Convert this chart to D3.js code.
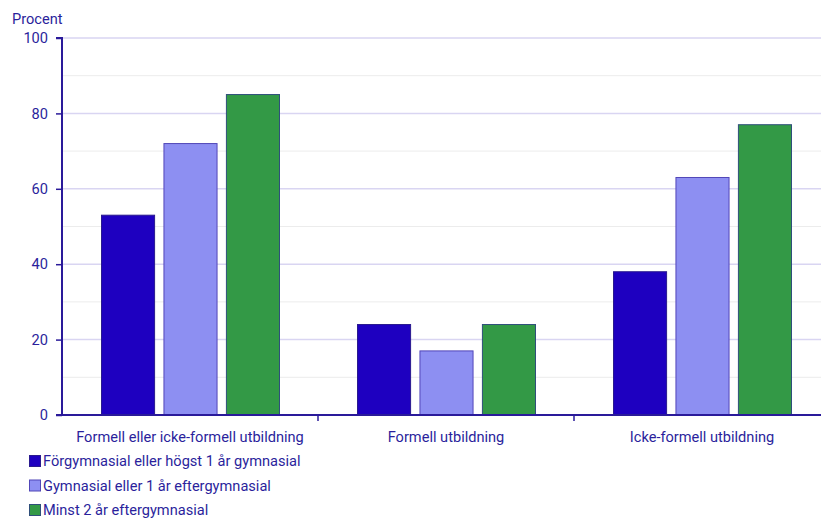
<!DOCTYPE html>
<html>
<head>
<meta charset="utf-8">
<script src="https://cdn.jsdelivr.net/npm/d3@7"></script>
<style>
  html, body { margin: 0; padding: 0; background: #fff; }
  svg { display: block; font-family: Roboto, "Noto Sans", sans-serif; }
</style>
</head>
<body>
<svg id="chart" width="821" height="518"></svg>
<script>
const categories = ["Formell eller icke-formell utbildning", "Formell utbildning", "Icke-formell utbildning"];
const seriesNames = [
  "Förgymnasial eller högst 1 år gymnasial",
  "Gymnasial eller 1 år eftergymnasial",
  "Minst 2 år eftergymnasial"
];
const seriesLow = [53, 24, 38];
const seriesMid = [72, 17, 63];
const seriesHigh = [85, 24, 77];
const yTicks = [0, 20, 40, 60, 80, 100];
const yMinor = [10, 30, 50, 70, 90];

const colors = ["#1e00c0", "#8d8ff2", "#339946"];
const strokes = ["#2a1a8f", "#5146b8", "#2f4f7a"];
const textColor = "#2b1f9c";
const axisColor = "#2a1a9a";
const fontSize = 14.6;

const svg = d3.select("#chart");
const m = { left: 62, top: 38, bottom: 415, right: 830 };

const x = d3.scaleBand().domain(categories).range([m.left, m.right]).paddingInner(0).paddingOuter(0);
const y = d3.scaleLinear().domain([0, 100]).range([m.bottom, m.top]);
const xSub = d3.scaleBand().domain([0, 1, 2]).range([39, 217]).paddingInner(0.15);

// minor gridlines
svg.append("g").selectAll("line").data(yMinor).join("line")
  .attr("x1", m.left).attr("x2", 821)
  .attr("y1", d => y(d)).attr("y2", d => y(d))
  .attr("stroke", "#ececec").attr("stroke-width", 1);

// major gridlines
svg.append("g").selectAll("line").data(yTicks.filter(d => d > 0)).join("line")
  .attr("x1", m.left).attr("x2", 821)
  .attr("y1", d => y(d)).attr("y2", d => y(d))
  .attr("stroke", "#d9d5f2").attr("stroke-width", 1.5);

// bars
const series = [seriesLow, seriesMid, seriesHigh];
series.forEach((vals, si) => {
  svg.append("g").selectAll("rect").data(vals).join("rect")
    .attr("x", (d, i) => x(categories[i]) + xSub(si) + 0.5)
    .attr("y", d => y(d))
    .attr("width", xSub.bandwidth())
    .attr("height", d => y(0) - y(d))
    .attr("fill", colors[si])
    .attr("stroke", strokes[si])
    .attr("stroke-width", 1);
});

// y axis
const yAxis = d3.axisLeft(y).tickValues(yTicks).tickSize(6).tickPadding(8);
const gy = svg.append("g").attr("transform", `translate(${m.left},0)`).call(yAxis);
gy.select(".domain").attr("stroke", axisColor).attr("stroke-width", 2).attr("d", `M-6,${y(100)}H0V${y(0)}`);
gy.selectAll(".tick line").attr("stroke", axisColor).attr("stroke-width", 1.5);
gy.selectAll(".tick text").attr("fill", textColor).attr("font-size", fontSize).attr("font-family", "Roboto, sans-serif");

// x axis
const gx = svg.append("g").attr("transform", `translate(0,${m.bottom})`);
gx.append("line").attr("x1", m.left - 6).attr("x2", 821).attr("y1", 0).attr("y2", 0)
  .attr("stroke", axisColor).attr("stroke-width", 2);
gx.selectAll(".sep").data(categories.slice(1)).join("line").attr("class", "sep")
  .attr("x1", d => x(d)).attr("x2", d => x(d)).attr("y1", 0).attr("y2", 6)
  .attr("stroke", axisColor).attr("stroke-width", 1.5);
gx.selectAll("text").data(categories).join("text")
  .attr("x", d => x(d) + x.bandwidth() / 2)
  .attr("y", 27)
  .attr("text-anchor", "middle")
  .attr("fill", textColor).attr("font-size", fontSize)
  .text(d => d);

// y title
svg.append("text").attr("x", 12).attr("y", 24)
  .attr("fill", textColor).attr("font-size", fontSize).text("Procent");

// legend
const lg = svg.append("g");
seriesNames.forEach((name, i) => {
  const yy = 461 + i * 24.5;
  lg.append("rect").attr("x", 29.5).attr("y", yy - 5.5).attr("width", 11).attr("height", 11)
    .attr("fill", colors[i]).attr("stroke", strokes[i]).attr("stroke-width", 1);
  lg.append("text").attr("x", 43).attr("y", yy + 5)
    .attr("fill", textColor).attr("font-size", fontSize).text(name);
});
</script>
</body>
</html>
